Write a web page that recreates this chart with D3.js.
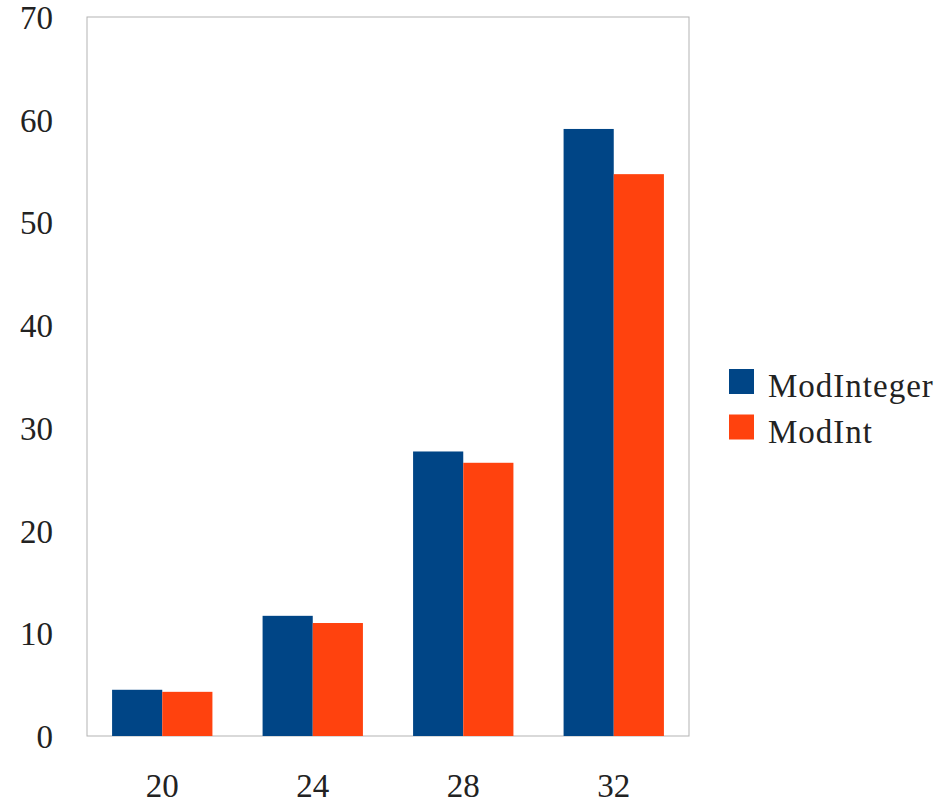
<!DOCTYPE html>
<html>
<head>
<meta charset="utf-8">
<script src="https://cdn.jsdelivr.net/npm/d3@7"></script>
<style>
  body { margin: 0; background: #fff; }
  text { font-family: "Liberation Serif", "DejaVu Serif", serif; fill: #222; }
</style>
</head>
<body>
<svg id="chart" width="945" height="808"></svg>
<script>
// data
const categories = ["20", "24", "28", "32"];
const seriesNames = ["ModInteger", "ModInt"];
const modInteger = [4.5, 11.7, 27.7, 59.1];
const modInt = [4.3, 11.0, 26.6, 54.7];
const yTicks = [0, 10, 20, 30, 40, 50, 60, 70];
const colors = ["#004586", "#ff420e"];

const svg = d3.select("#chart");
const plot = { left: 87, top: 17, right: 689, bottom: 736 };

const x0 = d3.scaleBand()
  .domain(categories)
  .range([plot.left, plot.right])
  .padding(0);

// bars fill the middle two thirds of each band
const x1 = d3.scaleBand()
  .domain(seriesNames)
  .range([x0.bandwidth() / 6, x0.bandwidth() * 5 / 6])
  .padding(0);

const y = d3.scaleLinear()
  .domain([0, 70])
  .range([plot.bottom, plot.top]);

// plot frame
svg.append("rect")
  .attr("x", plot.left)
  .attr("y", plot.top)
  .attr("width", plot.right - plot.left)
  .attr("height", plot.bottom - plot.top)
  .attr("fill", "none")
  .attr("stroke", "#b3b3b3")
  .attr("stroke-width", 1);

const rows = categories.map((c, i) => ({ cat: c, values: [modInteger[i], modInt[i]] }));

const groups = svg.append("g").selectAll("g")
  .data(rows)
  .join("g")
  .attr("transform", d => `translate(${x0(d.cat)},0)`);

groups.selectAll("rect")
  .data(d => d.values.map((v, j) => ({ name: seriesNames[j], value: v, j: j })))
  .join("rect")
  .attr("x", d => x1(d.name))
  .attr("width", x1.bandwidth())
  .attr("y", d => y(d.value))
  .attr("height", d => y(0) - y(d.value))
  .attr("fill", d => colors[d.j]);

// y axis labels
const yAxis = d3.axisLeft(y).tickValues(yTicks).tickSize(0).tickPadding(34);
svg.append("g")
  .attr("transform", `translate(${plot.left},1)`)
  .call(yAxis)
  .call(g => g.select(".domain").remove())
  .selectAll("text")
  .style("font-family", "Liberation Serif, serif")
  .style("font-size", "33px")
  .attr("fill", "#222");

// x axis labels
const xAxis = d3.axisBottom(x0).tickSize(0).tickPadding(38);
svg.append("g")
  .attr("transform", `translate(0,${plot.bottom})`)
  .call(xAxis)
  .call(g => g.select(".domain").remove())
  .selectAll("text")
  .style("font-family", "Liberation Serif, serif")
  .style("font-size", "33px")
  .attr("fill", "#222");

// legend
const legend = svg.append("g").attr("transform", "translate(729,369)");
const items = legend.selectAll("g")
  .data(seriesNames)
  .join("g")
  .attr("transform", (d, i) => `translate(0,${i * 45.5})`);

items.append("rect")
  .attr("width", 25)
  .attr("height", 25)
  .attr("fill", (d, i) => colors[i]);

items.append("text")
  .attr("x", 39)
  .attr("y", 28)
  .style("font-size", "33px")
  .style("letter-spacing", "1px")
  .text(d => d);
</script>
</body>
</html>
